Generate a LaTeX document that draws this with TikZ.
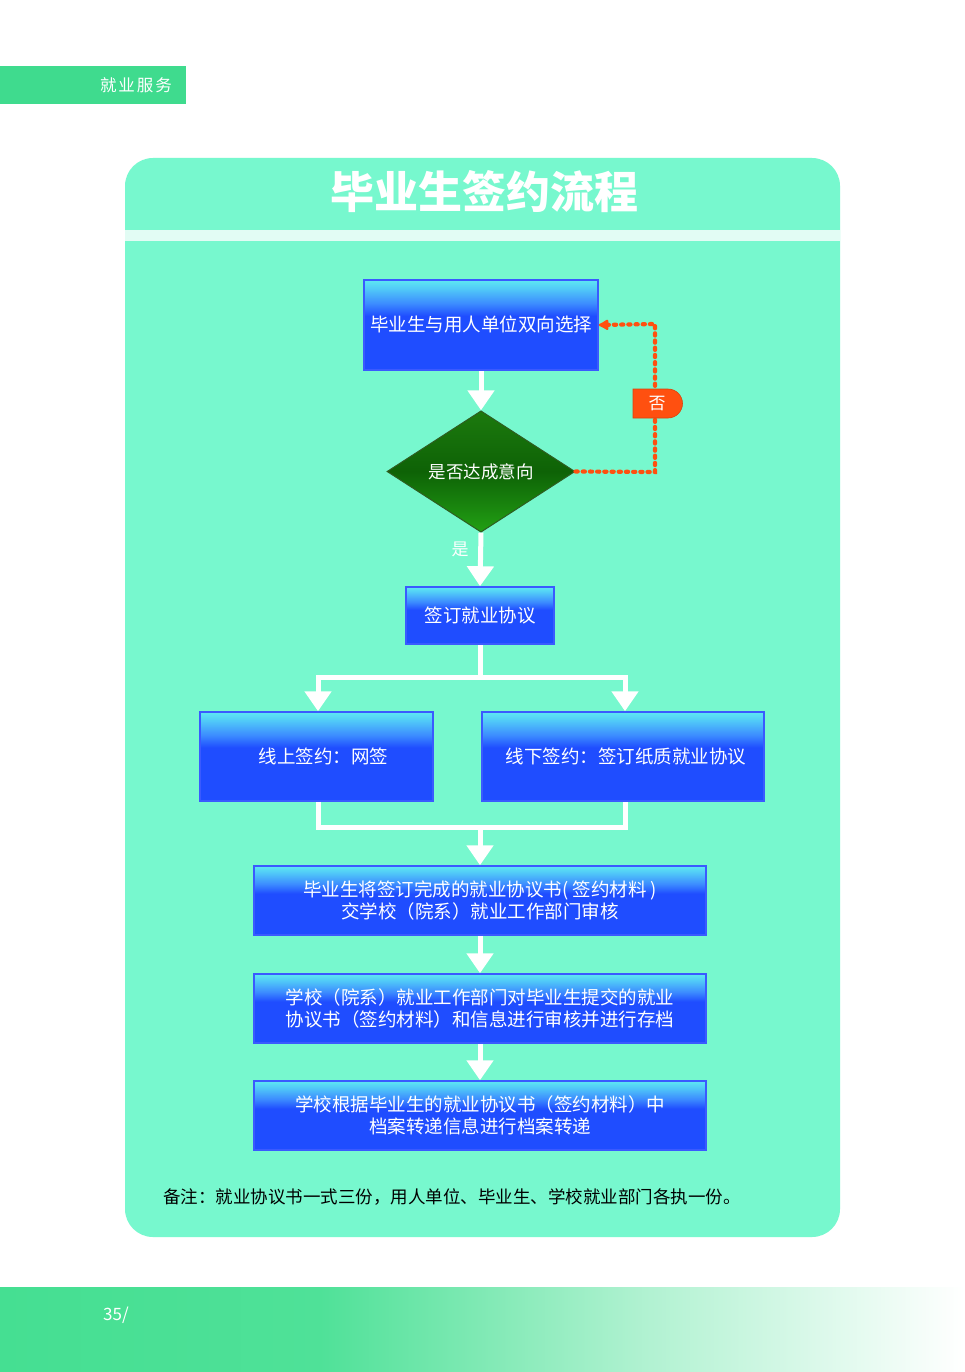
\documentclass[tikz,border=0pt]{standalone}
\usepackage{fontspec}
\setmainfont{Noto Sans CJK SC}
\usetikzlibrary{arrows.meta,shapes.geometric}
\definecolor{tabgreen}{HTML}{3FDB8E}
\definecolor{panel}{HTML}{77F8CE}
\definecolor{band}{HTML}{E2FCF4}
\definecolor{boxtop}{HTML}{5EE8F2}
\definecolor{boxhi}{HTML}{50C8F8}
\definecolor{boxmid}{HTML}{3C8CFF}
\definecolor{boxbot}{HTML}{1F4DFF}
\definecolor{boxedge}{HTML}{3A5AFF}
\definecolor{dgtop}{HTML}{1C7A0E}
\definecolor{dgmid}{HTML}{0E6206}
\definecolor{dgbot}{HTML}{22A014}
\definecolor{dgedge}{HTML}{2E5E22}
\definecolor{orangec}{HTML}{FF5010}
\definecolor{footl}{HTML}{45DF92}
\definecolor{footm}{HTML}{4FE198}
\pgfdeclareverticalshading{boxshade}{100bp}{color(0bp)=(boxbot); color(50bp)=(boxbot); color(55bp)=(boxbot); color(62bp)=(boxmid); color(70bp)=(boxhi); color(75bp)=(boxtop); color(100bp)=(boxtop)}
\begin{document}
\begin{tikzpicture}[x=1pt,y=-1pt,
  bbox/.style={draw=boxedge, line width=1.5pt, shading=boxshade, text=white,
    font=\fontsize{18.5}{22}\selectfont, align=center, inner sep=0pt},
  wline/.style={draw=white, line width=5pt},
  warr/.style={wline, -{Triangle[width=26pt,length=20pt]}},
  dots/.style={draw=orangec, line width=4.2pt, dash pattern=on 2.2pt off 5pt, line cap=round},
  lbl/.style={text=white, font=\fontsize{17}{20}\selectfont, inner sep=0pt}]
% background
\fill[white] (0,0) rectangle (964,1372);
\useasboundingbox (0,0) rectangle (964,1372);
% top tab
\fill[tabgreen] (0,66) rectangle (186,104);
\node[text=white, font=\fontsize{16.5}{18}\selectfont, inner sep=0pt] (tab) at (136,85) {就\hspace{2pt}业\hspace{2pt}服\hspace{2pt}务};
% panel
\fill[panel, rounded corners=28pt] (125,158) rectangle (840,1237);
\fill[band] (125,230) rectangle (840,241);
% title
\node[text=white, font=\fontsize{44}{48}\selectfont\bfseries, inner sep=0pt] (title) at (484,192) {毕业生签约流程};
% boxes
\node[bbox, minimum width=234pt, minimum height=90pt] (b1) at (481,325) {\raisebox{3pt}{毕业生与用人单位双向选择}};
\node[diamond, draw=dgedge, line width=1pt, top color=dgtop, bottom color=dgbot, middle color=dgmid,
  minimum width=188pt, minimum height=113pt, inner sep=0pt, text=white,
  font=\fontsize{17.5}{20}\selectfont] (dia) at (481,471.5) {是否达成意向};
\node[bbox, minimum width=148pt, minimum height=57pt] (b2) at (480,615.5) {\raisebox{2pt}{签订就业协议}};
\node[bbox, minimum width=233pt, minimum height=89pt] (b3) at (316.5,756.5) {\hspace*{14pt}线上签约：网签};
\node[bbox, minimum width=282pt, minimum height=89pt] (b4) at (623,756.5) {\hspace*{6pt}线下签约：签订纸质就业协议};
\node[bbox, minimum width=452pt, minimum height=69pt] (b5) at (480,900.5) {毕业生将签订完成的就业协议书( 签约材料 )\\交学校（院系）就业工作部门审核};
\node[bbox, minimum width=452pt, minimum height=69pt] (b6) at (480,1008.5) {学校（院系）就业工作部门对毕业生提交的就业\\协议书（签约材料）和信息进行审核并进行存档};
\node[bbox, minimum width=452pt, minimum height=69pt] (b7) at (480,1115.5) {学校根据毕业生的就业协议书（签约材料）中\\档案转递信息进行档案转递};
% white connectors
\draw[warr] (b1.south) -- (dia.north);
\draw[warr] (dia.south) -- (b2.north);
\node[lbl] (yes) at (460,549) {是};
\coordinate (split) at (480,677);
\draw[wline] (b2.south) -- (split);
\draw[warr] (split) -| ([xshift=1.5pt]b3.north);
\draw[warr] (split) -| ([xshift=2pt]b4.north);
\coordinate (merge) at (480,827);
\draw[wline] ([xshift=1.5pt]b3.south) |- (merge);
\draw[wline] ([xshift=2pt]b4.south) |- (merge);
\draw[warr] (merge) -- (b5.north);
\draw[warr] (b5.south) -- (b6.north);
\draw[warr] (b6.south) -- (b7.north);
% orange "no" loop
\coordinate (c1) at (655,472);
\coordinate (c2) at (655,324);
\draw[dots, -{Latex[length=12pt,width=13pt,round]}] (dia.east) -- (c1) -- (c2) -- (b1.east);
\fill[orangec, draw=orangec!85!black, line width=0.6pt] (633,389) -- (668,389) arc[start angle=-90, end angle=90, radius=14.5] -- (633,418) -- cycle;
\node[lbl] (no) at (657,403.5) {否};
% note
\node[anchor=west, text=black, font=\fontsize{17.5}{20}\selectfont, inner sep=0pt] (note) at (163,1197) {备注：就业协议书一式三份，用人单位、毕业生、学校就业部门各执一份。};
% footer
\shade[left color=footl, right color=footm] (0,1287) rectangle (320,1372);
\shade[left color=footm, right color=white, middle color=footm!45!white] (320,1287) rectangle (964,1372);
\node[text=white, font=\fontsize{17}{20}\selectfont, inner sep=0pt] (page) at (116,1315) {35/};
\end{tikzpicture}
\end{document}
